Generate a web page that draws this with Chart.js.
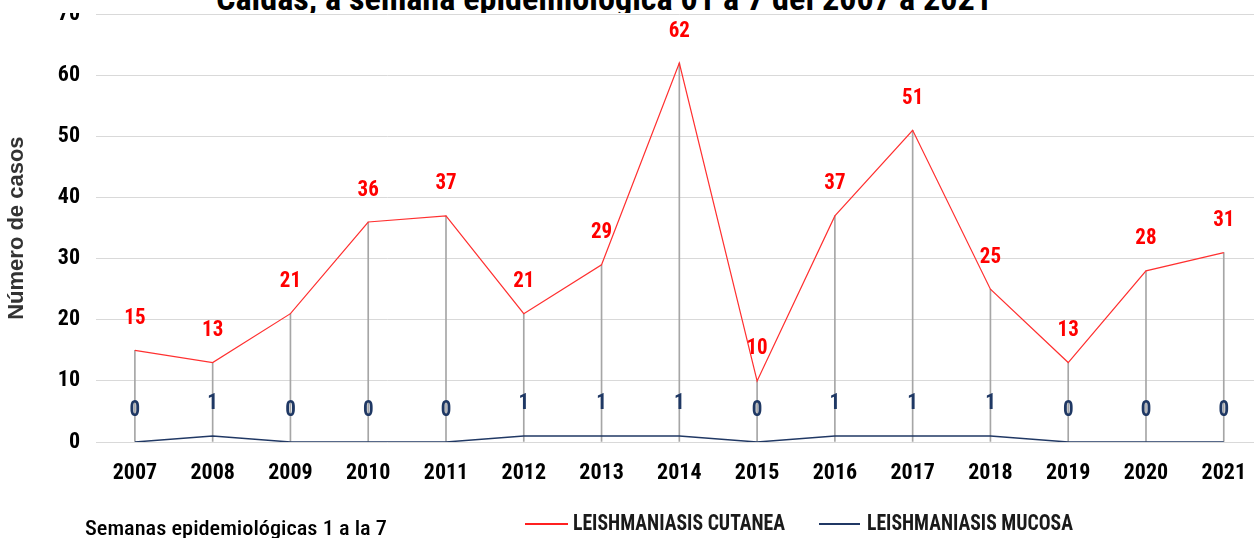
<!DOCTYPE html>
<html>
<head>
<meta charset="utf-8">
<script src="https://cdn.jsdelivr.net/npm/chart.js@4.4.1/dist/chart.umd.min.js"></script>
<style>
  body { margin: 0; width: 1254px; height: 538px; overflow: hidden; background: #fff; position: relative; }
  #chart { position: absolute; left: 0; top: -15px; }
  #title { position: absolute; left: 0; top: 0; width: 1254px; height: 13px; overflow: hidden; background: #fff; z-index: 2; }
  .txt { position: absolute; white-space: nowrap; transform-origin: 0 0; }
  #title span { top: -19px; font-weight: bold; font-size: 34px; line-height: 34px; color: #000; }
  #caption { top: 514px; font-weight: 500; font-size: 21px; line-height: 28px; color: #000; }
  .leg { top: 509px; font-weight: bold; font-size: 22px; line-height: 28px; color: #1a1a1a; }
  .swatch { position: absolute; top: 523px; height: 2px; }
</style>
</head>
<body>
<div id="title"><span class="txt" data-left="216" data-width="776">Caldas, a semana epidemiológica 01 a 7 del 2007 a 2021</span></div>
<canvas id="chart" width="1264" height="553"></canvas>
<div id="caption" class="txt" data-left="85" data-width="302">Semanas epidemiológicas 1 a la 7</div>
<div class="swatch" style="left:525px;width:43px;background:#ff2020"></div>
<div class="leg txt" data-left="573" data-width="212">LEISHMANIASIS CUTANEA</div>
<div class="swatch" style="left:819px;width:41px;background:#203864"></div>
<div class="leg txt" data-left="867" data-width="206">LEISHMANIASIS MUCOSA</div>
<script>
const years = ["2007", "2008", "2009", "2010", "2011", "2012", "2013", "2014", "2015", "2016", "2017", "2018", "2019", "2020", "2021"]
const cutanea = [15, 13, 21, 36, 37, 21, 29, 62, 10, 37, 51, 25, 13, 28, 31]
const mucosa = [0, 1, 0, 0, 0, 1, 1, 1, 0, 1, 1, 1, 0, 0, 0]

// the original is calibri stretched up, so prefer a condensed face if one is installed
const probe = document.createElement("canvas").getContext("2d")
function hasFont(name) {
  probe.font = "bold 100px monospace"
  const base = probe.measureText("LEISH 2018 mn").width
  probe.font = `bold 100px "${name}", monospace`
  return probe.measureText("LEISH 2018 mn").width != base
}
let face = "Liberation Sans"
for (const f of ["Roboto Condensed", "Liberation Sans Narrow", "DejaVu Sans Condensed"]) {
  if (hasFont(f)) { face = f; break }
}
const family = `"${face}", "Liberation Sans", Arial, sans-serif`
const condensed = face != "Liberation Sans"
const tickSize = condensed ? 22 : 20
const labelStretch = condensed ? 1.05 : 1.2

// html texts: squeeze each one to the width it has in the picture
document.querySelectorAll(".txt").forEach((el) => {
  el.style.fontFamily = family
  el.style.left = el.dataset.left + "px"
  const sx = el.dataset.width / el.getBoundingClientRect().width
  el.style.transform = `scaleX(${sx})`
})

// value labels above each point, like the excel data labels
const pointLabels = {
  id: "pointLabels",
  afterDatasetsDraw(chart) {
    const ctx = chart.ctx
    ctx.save()
    ctx.font = `bold ${condensed ? 21 : 18}px ${family}`
    ctx.textAlign = "center"
    ctx.textBaseline = "middle"
    for (let i = 0; i < 2; i++) {
      const ds = chart.data.datasets[i]
      ctx.fillStyle = ds.labelColor
      chart.getDatasetMeta(i).data.forEach((pt, j) => {
        ctx.save()
        ctx.translate(pt.x, pt.y - 32)
        ctx.scale(1, labelStretch)
        ctx.fillText(ds.data[j], 0, 0)
        ctx.restore()
      })
    }
    ctx.restore()
  },
}

const config = {
  data: {
    labels: years,
    datasets: [
      {
        type: "line",
        label: "LEISHMANIASIS CUTANEA",
        data: cutanea,
        borderColor: "#ff3030",
        borderWidth: 1.2,
        pointRadius: 0,
        tension: 0,
        labelColor: "#ff0000",
        order: 1,
      },
      {
        type: "line",
        label: "LEISHMANIASIS MUCOSA",
        data: mucosa,
        borderColor: "#203864",
        borderWidth: 1.5,
        pointRadius: 0,
        tension: 0,
        labelColor: "#1f3864",
        order: 2,
      },
      {
        // drop lines
        type: "bar",
        data: cutanea,
        backgroundColor: "#a6a6a6",
        barThickness: 1,
        borderWidth: 0,
        order: 3,
      },
    ],
  },
  options: {
    responsive: false,
    animation: false,
    devicePixelRatio: 1,
    layout: { padding: { top: 0, left: 0, right: 0, bottom: 0 } },
    plugins: {
      legend: { display: false },
      title: { display: false },
      tooltip: { enabled: false },
    },
    scales: {
      x: {
        type: "category",
        offset: true,
        grid: { display: false, drawTicks: false },
        border: { display: false },
        ticks: {
          color: "#000",
          font: { family: family, size: tickSize, weight: "bold" },
          padding: 18,
          maxRotation: 0,
          autoSkip: false,
        },
        afterFit(scale) {
          scale.height = 96
        },
      },
      y: {
        min: 0,
        max: 70,
        grid: { color: "#d9d9d9", lineWidth: 1, drawTicks: false },
        border: { display: false },
        ticks: {
          stepSize: 10,
          color: "#000",
          font: { family: family, size: tickSize, weight: "bold" },
          padding: 16,
        },
        title: {
          display: true,
          text: "Número de casos",
          color: "#333",
          font: { family: '"Liberation Sans", Arial, sans-serif', size: 22, weight: "bold" },
          padding: { top: 4, bottom: 0 },
        },
        afterFit(scale) {
          scale.width = 96
        },
      },
    },
  },
  plugins: [pointLabels],
}

new Chart(document.getElementById("chart"), config)
</script>
</body>
</html>
